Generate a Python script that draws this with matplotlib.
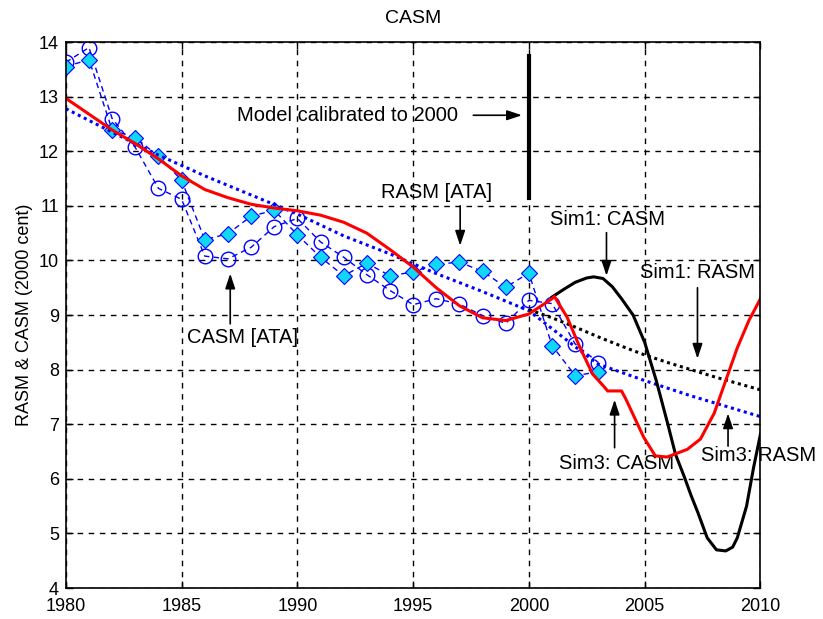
import matplotlib
matplotlib.use("Agg")
import matplotlib.pyplot as plt
import numpy as np

plt.rcParams['font.family'] = ['Liberation Sans', 'DejaVu Sans']

# ---- data ----
years_data = [1980, 1981, 1982, 1983, 1984, 1985, 1986, 1987, 1988, 1989, 1990, 1991,
              1992, 1993, 1994, 1995, 1996, 1997, 1998, 1999, 2000, 2001, 2002, 2003]
casm_ata = [13.63, 13.9, 12.6, 12.07, 11.32, 11.12, 10.08, 10.03, 10.24, 10.62, 10.77, 10.34,
            10.06, 9.74, 9.45, 9.19, 9.30, 9.20, 8.99, 8.85, 9.27, 9.21, 8.47, 8.13]
rasm_ata = [13.55, 13.68, 12.39, 12.25, 11.91, 11.47, 10.38, 10.49, 10.81, 10.92, 10.47, 10.06,
            9.72, 9.95, 9.72, 9.79, 9.93, 9.97, 9.80, 9.51, 9.77, 8.44, 7.89, 7.96]

years_sim3_rasm = [1980, 1982, 1984, 1986, 1988, 1990, 1992, 1994, 1996, 1998, 2000,
                   2001, 2002, 2003, 2005, 2007, 2010]
sim3_rasm = [12.78, 12.35, 11.93, 11.55, 11.2, 10.85, 10.45, 10.12, 9.76, 9.43, 9.08,
             8.75, 8.42, 8.1, 7.8, 7.52, 7.14]

years_sim1_rasm = [2000, 2001, 2002, 2003, 2004, 2005, 2006, 2007, 2008, 2009, 2010]
sim1_rasm = [9.1, 8.95, 8.78, 8.6, 8.43, 8.27, 8.13, 8.0, 7.87, 7.75, 7.63]

years_sim3_casm = [1980, 1981, 1982, 1983, 1984, 1985, 1986, 1987, 1988, 1989, 1990, 1991,
                   1992, 1993, 1994, 1995, 1996, 1997, 1998, 1999, 2000, 2001, 2001.1,
                   2001.65, 2002.2, 2002.75, 2003.2, 2003.4, 2004.0, 2004.2, 2004.96,
                   2005.46, 2005.97, 2006.84, 2007.41, 2008.0, 2008.5, 2009.0, 2009.5, 2010]
sim3_casm = [12.97, 12.68, 12.39, 12.14, 11.86, 11.55, 11.3, 11.15, 11.03, 10.96, 10.91, 10.83,
             10.7, 10.5, 10.2, 9.88, 9.5, 9.17, 8.95, 8.9, 9.02, 9.3, 9.34,
             8.96, 8.41, 7.92, 7.71, 7.61, 7.61, 7.45, 6.76,
             6.42, 6.40, 6.54, 6.73, 7.2, 7.8, 8.4, 8.9, 9.3]

years_sim1_casm = [2001.0, 2001.5, 2002.0, 2002.5, 2002.8, 2003.2, 2003.6, 2004.0, 2004.5,
                   2005.0, 2005.5, 2006.0, 2006.33, 2006.7, 2007.0, 2007.3, 2007.7, 2008.1,
                   2008.5, 2008.8, 2009.0, 2009.4, 2009.7, 2010.0]
sim1_casm = [9.33, 9.47, 9.6, 9.68, 9.70, 9.67, 9.52, 9.3, 9.0,
             8.5, 7.8, 7.0, 6.45, 6.05, 5.7, 5.38, 4.92, 4.7,
             4.68, 4.75, 4.92, 5.5, 6.2, 6.82]

calib_year = 2000
calib_range = [11.15, 13.75]

xticks = [1980, 1985, 1990, 1995, 2000, 2005, 2010]
yticks = [4, 5, 6, 7, 8, 9, 10, 11, 12, 13, 14]

# ---- figure ----
fig = plt.figure(figsize=(8.23, 6.19), dpi=100)
ax = fig.add_axes([0.080, 0.050, 0.844, 0.882])

blue = '#0000ff'
cyan = '#12d6f6'

ax.plot(years_data, casm_ata, linestyle=(0, (4, 3)), color=blue, lw=1.0,
        marker='o', markersize=10.5, markerfacecolor='none', markeredgecolor=blue,
        markeredgewidth=1.0, zorder=3)
ax.plot(years_data, rasm_ata, linestyle=(0, (4, 3)), color=blue, lw=1.0,
        marker='D', markersize=8, markerfacecolor=cyan, markeredgecolor=blue,
        markeredgewidth=0.8, zorder=3)

ax.plot(years_sim3_rasm, sim3_rasm, linestyle=(0, (1, 1.2)), color=blue, lw=2.2, zorder=4)
ax.plot(years_sim1_rasm, sim1_rasm, linestyle=(0, (1, 1.2)), color='black', lw=2.2, zorder=4)
ax.plot(years_sim1_casm, sim1_casm, color='black', lw=2.2, zorder=5)
ax.plot(years_sim3_casm, sim3_casm, color='red', lw=2.2, zorder=6)

ax.plot([calib_year, calib_year], calib_range, color='black', lw=3, zorder=6)

ax.set_xlim(1980, 2010)
ax.set_ylim(4, 14)
ax.set_xticks(xticks)
ax.set_yticks(yticks)
ax.tick_params(direction='in', top=True, right=True, length=5, labelsize=13, width=1)
ax.tick_params(axis='x', pad=7)
ax.tick_params(axis='y', pad=5)
ax.grid(True, color='black', linestyle=(0, (4, 4)), lw=1)
for s in ax.spines.values():
    s.set_linewidth(1.2)
    s.set_zorder(10)

ax.set_title('CASM', fontsize=14, pad=14)
ax.set_ylabel('RASM & CASM (2000 cent)', fontsize=13, labelpad=4)

arrow = dict(arrowstyle='-|>,head_length=0.9,head_width=0.3', color='black', lw=1.2,
             shrinkA=0, shrinkB=0)
fs = 14.5

ax.annotate('', xy=(1999.7, 12.66), xytext=(1997.6, 12.66), arrowprops=arrow, zorder=7)
ax.text(1987.4, 12.66, 'Model calibrated to 2000', fontsize=fs, ha='left', va='center')

ax.annotate('', xy=(1997.03, 10.27), xytext=(1997.03, 11.0), arrowprops=arrow, zorder=7)
ax.text(1996.0, 11.25, 'RASM [ATA]', fontsize=fs, ha='center', va='center')

ax.annotate('', xy=(1987.1, 9.76), xytext=(1987.1, 8.84), arrowprops=arrow, zorder=7)
ax.text(1987.65, 8.59, 'CASM [ATA]', fontsize=fs, ha='center', va='center')

ax.annotate('', xy=(2003.35, 9.72), xytext=(2003.35, 10.51), arrowprops=arrow, zorder=7)
ax.text(2003.4, 10.75, 'Sim1: CASM', fontsize=fs, ha='center', va='center')

ax.annotate('', xy=(2007.28, 8.2), xytext=(2007.28, 9.5), arrowprops=arrow, zorder=7)
ax.text(2007.28, 9.78, 'Sim1: RASM', fontsize=fs, ha='center', va='center')

ax.annotate('', xy=(2003.7, 7.45), xytext=(2003.7, 6.57), arrowprops=arrow, zorder=7)
ax.text(2003.78, 6.29, 'Sim3: CASM', fontsize=fs, ha='center', va='center')

ax.annotate('', xy=(2008.6, 7.2), xytext=(2008.6, 6.6), arrowprops=arrow, zorder=7)
ax.text(2009.9, 6.42, 'Sim3: RASM', fontsize=fs, ha='center', va='center', clip_on=False)

fig.savefig('out.png', dpi=100)
